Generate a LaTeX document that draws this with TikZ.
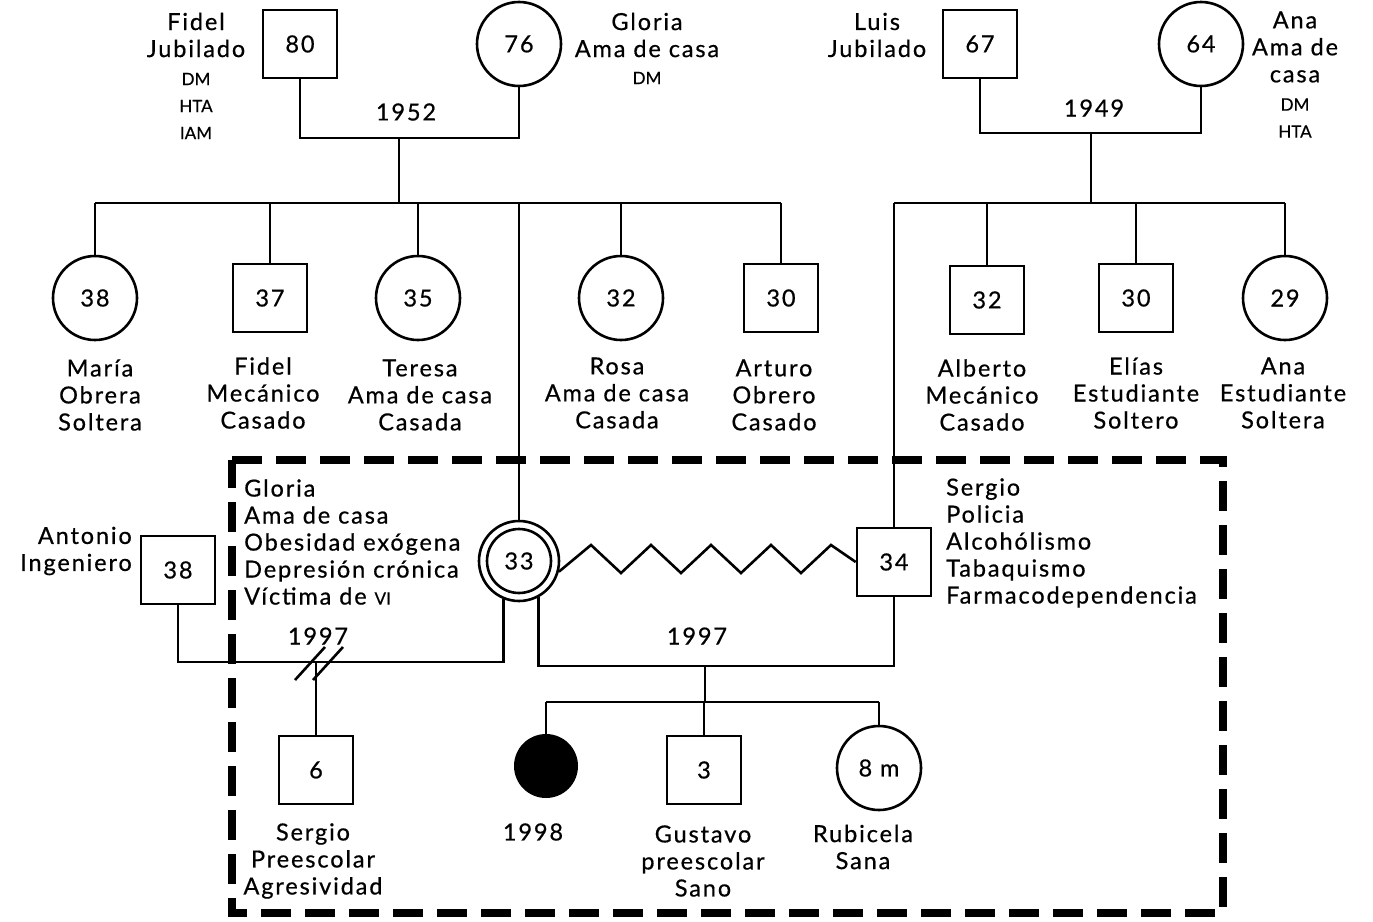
\documentclass[tikz,border=0pt]{standalone}
\usepackage{fontspec}
\setmainfont{Lato}[LetterSpace=8, FakeBold=0.6]
\newfontfamily\tightfont{Lato}[FakeBold=0.6]
\usetikzlibrary{shapes.geometric}
\begin{document}
\begin{tikzpicture}[x=1pt,y=-1pt,
  every node/.style={font=\fontsize{23.5}{27}\selectfont},
  lbl/.style={align=center, inner sep=0},
  lbll/.style={align=left, inner sep=0, anchor=west},
  lblr/.style={align=right, inner sep=0, anchor=east},
  small/.style={align=center, inner sep=0, font=\tightfont\fontsize{17}{27}\selectfont},
  male/.style={draw, line width=2.6, rectangle, minimum width=74, minimum height=68, inner sep=0},
  female/.style={draw, line width=2.6, circle, minimum size=84, inner sep=0},
  link/.style={line width=2.6},
  household/.style={line width=8.5, dash pattern=on 30 off 14},
]
\useasboundingbox (0,0) rectangle (1373,921);

% ---------- grandparents, father's side ----------
\node[male]   (fidel)  at (300,44) {80};
\node[female] (gloA)   at (519,44) {76};
\node[lbl] (fidelL) at (196,35) {Fidel\\Jubilado};
\node[small] (fidelD) at (196,106) {DM\\HTA\\IAM};
\node[lbl] (gloAL) at (647,35) {Gloria\\Ama de casa};
\node[small] (gloAD) at (647,78) {DM};
\coordinate (m1) at (399,138);
\coordinate (bar1) at (399,203);
\draw[link] (fidel.south) |- (m1) -| (gloA.south);
\draw[link] (m1) -- (bar1);
\node[lbl] (y1952) at (406,112) {1952};

% ---------- grandparents, mother's side ----------
\node[male]   (luis) at (980,44) {67};
\node[female] (anaA) at (1201,44) {64};
\node[lbl] (luisL) at (877,35) {Luis\\Jubilado};
\node[lbl] (anaAL) at (1295,47) {Ana\\Ama de\\casa};
\node[small] (anaAD) at (1295,118) {DM\\HTA};
\coordinate (m2) at (1091,133);
\coordinate (bar2) at (1091,203);
\draw[link] (luis.south) |- (m2) -| (anaA.south);
\draw[link] (m2) -- (bar2);
\node[lbl] (y1949) at (1094,108) {1949};

% ---------- first sibship ----------
\node[female] (maria)  at (95,298)  {38};
\node[male]   (fidelH) at (270,298) {37};
\node[female] (teresa) at (418,298) {35};
\node[female] (rosa)   at (621,298) {32};
\node[male]   (arturo) at (781,298) {30};
\draw[link] (bar1 -| maria.north) -- (bar1 -| arturo.north);
\foreach \k in {maria,fidelH,teresa,rosa,arturo}
  \draw[link] (bar1 -| \k.north) -- (\k.north);
\node[lbl] (mariaL)  at (100,395) {María\\Obrera\\Soltera};
\node[lbl] (fidelHL) at (263,393) {Fidel\\Mecánico\\Casado};
\node[lbl] (teresaL) at (420,395) {Teresa\\Ama de casa\\Casada};
\node[lbl] (rosaL)   at (617,393) {Rosa\\Ama de casa\\Casada};
\node[lbl] (arturoL) at (774,395) {Arturo\\Obrero\\Casado};

% ---------- second sibship ----------
\node[male]   (alberto) at (987,300)  {32};
\node[male]   (elias)   at (1136,298) {30};
\node[female] (anaH)    at (1285,298) {29};
\node[lbl] (albertoL) at (982,395) {Alberto\\Mecánico\\Casado};
\node[lbl] (eliasL)   at (1136,393) {Elías\\Estudiante\\Soltero};
\node[lbl] (anaHL)    at (1283,393) {Ana\\Estudiante\\Soltera};

% ---------- household ----------
\draw[household] (232,460) -- (1223,460) -- (1223,913) -- (232,913) -- cycle;

\node[circle, draw, line width=2.6, minimum size=80, inner sep=0] (g33) at (519,561) {33};
\draw[line width=2.6] (g33.center) circle[radius=32];
\node[male] (s34) at (894,562) {34};
\draw[link] (bar1 -| g33.north) -- (g33.north);
\draw[link] (bar2 -| s34.north) -- (s34.north);
\draw[link] (bar2 -| s34.north) -- (bar2 -| anaH.north);
\foreach \k in {alberto,elias,anaH}
  \draw[link] (bar2 -| \k.north) -- (\k.north);

\node[lbll] (g33L) at (244,542) {Gloria\\Ama de casa\\Obesidad exógena\\Depresión crónica\\Víctima de {\tightfont\fontsize{17}{17}\selectfont VI}};
\node[lbll] (s34L) at (946,543) {Sergio\\Policia\\Alcohólismo\\Tabaquismo\\Farmacodependencia};

% conflictual relationship
\draw[line width=2.6, line join=miter] (g33.-15) -- (591,545) -- (621,573) -- (651,545) -- (681,573)
  -- (711,545) -- (741,573) -- (771,545) -- (801,573) -- (831,545) -- (s34.west);

% former partner, divorced 1997
\node[male] (anto) at (178,570) {38};
\node[lblr] (antoL) at (132,551) {Antonio\\Ingeniero};
\coordinate (div) at (316,662);
\draw[link] (anto.south) |- (div) -| (g33.248);
\draw[link] (295,680) -- (325,647);
\draw[link] (313,680) -- (343,647);
\node[lbl] (y1997a) at (318,636) {1997};
\node[male] (son6) at (316,770) {6};
\draw[link] (div) -- (son6.north);
\node[lbl] (son6L) at (313,861) {Sergio\\Preescolar\\Agresividad};

% current union 1997
\coordinate (m3) at (705,666);
\coordinate (bar3) at (705,702);
\draw[link] (g33.-62) |- (m3) -| (s34.south);
\draw[link] (m3) -- (bar3);
\node[lbl] (y1997b) at (697,636) {1997};
\node[ellipse, fill=black, minimum width=64, minimum height=64, inner sep=0] (dead) at (546,766) {};
\node[male] (gus) at (704,770) {3};
\node[female] (rub) at (879,768) {8 m};
\draw[link] (bar3 -| dead.north) -- (bar3 -| rub.north);
\foreach \k in {dead,gus,rub}
  \draw[link] (bar3 -| \k.north) -- (\k.north);
\node[lbl] (deadL) at (533,832) {1998};
\node[lbl] (gusL) at (703,861) {Gustavo\\preescolar\\Sano};
\node[lbl] (rubL) at (863,847) {Rubicela\\Sana};
\end{tikzpicture}
\end{document}
